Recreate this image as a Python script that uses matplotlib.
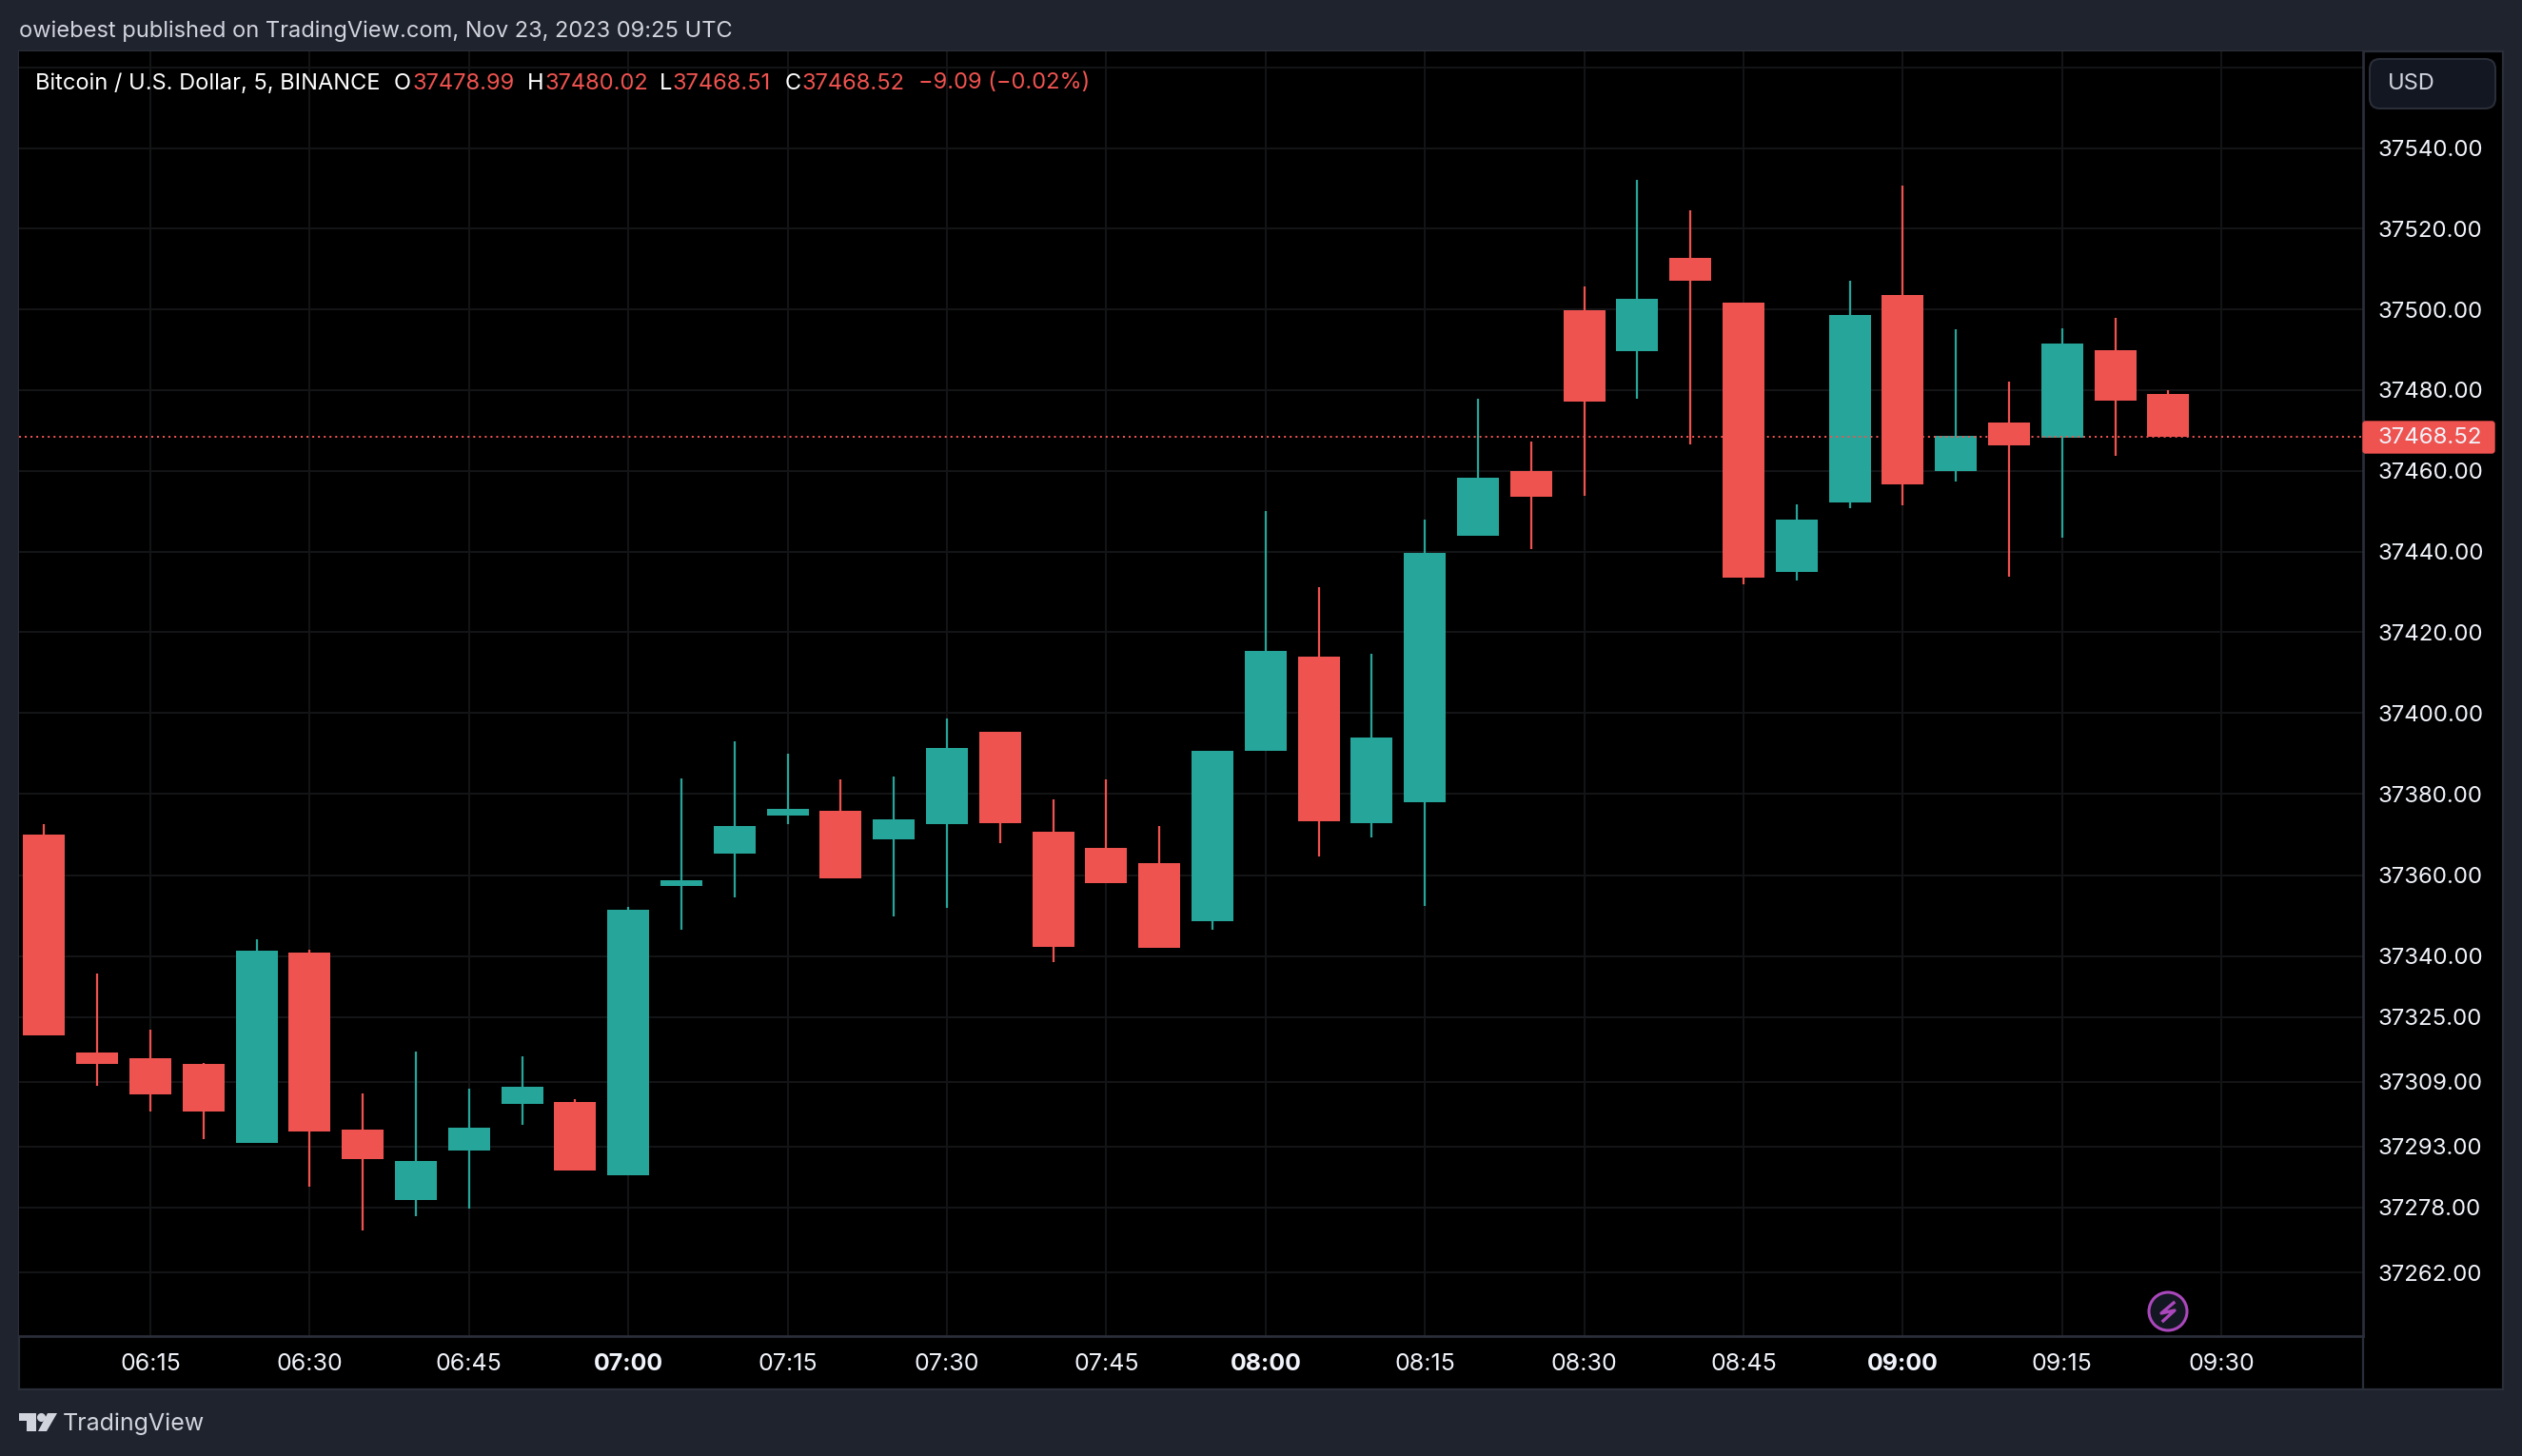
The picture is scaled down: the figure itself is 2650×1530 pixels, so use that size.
import matplotlib
matplotlib.use("Agg")
import matplotlib.pyplot as plt
from matplotlib.patches import Rectangle, FancyBboxPatch, Circle, Polygon
from matplotlib.lines import Line2D

W, H = 2650, 1530

# 5 minute candles, time as minutes after midnight (06:05 .. 09:25)
times = list(range(365, 570, 5))
opens = [37370.1, 37316.2, 37314.8, 37313.4, 37294.0, 37340.8, 37297.2, 37279.9, 37292.1, 37303.6,
         37304.0, 37286.0, 37357.4, 37365.4, 37374.8, 37375.9, 37368.9, 37372.7, 37395.4, 37370.8,
         37366.8, 37363.0, 37348.5, 37390.8, 37414.1, 37372.9, 37377.9, 37443.8, 37460.0, 37499.8,
         37489.6, 37512.7, 37501.6, 37435.0, 37452.2, 37503.5, 37460.0, 37472.0, 37468.2, 37489.9,
         37478.99]
highs = [37372.7, 37335.7, 37321.8, 37313.6, 37344.1, 37341.5, 37306.1, 37316.4, 37307.3, 37315.3,
         37304.7, 37352.1, 37383.9, 37393.0, 37390.0, 37383.7, 37384.4, 37398.7, 37395.4, 37378.8,
         37383.7, 37372.0, 37390.8, 37450.1, 37431.1, 37414.8, 37448.0, 37477.9, 37467.3, 37505.7,
         37532.0, 37524.5, 37501.6, 37451.7, 37507.1, 37530.6, 37495.1, 37482.1, 37495.3, 37497.9,
         37480.02]
lows = [37320.4, 37307.9, 37301.7, 37294.9, 37294.0, 37283.0, 37272.4, 37275.9, 37277.6, 37298.4,
        37287.1, 37286.0, 37346.6, 37354.6, 37372.7, 37359.3, 37349.9, 37351.8, 37368.0, 37338.4,
        37357.9, 37342.0, 37346.6, 37390.8, 37364.5, 37369.2, 37352.3, 37443.8, 37440.7, 37453.8,
        37477.9, 37466.6, 37431.9, 37432.9, 37450.8, 37451.5, 37457.4, 37433.8, 37443.5, 37463.7,
        37468.51]
closes = [37320.4, 37313.4, 37305.9, 37301.7, 37341.3, 37296.8, 37290.0, 37289.5, 37297.7, 37307.8,
          37287.1, 37351.4, 37358.6, 37372.2, 37376.4, 37359.3, 37373.8, 37391.4, 37372.9, 37342.2,
          37357.9, 37342.0, 37390.8, 37415.5, 37373.4, 37394.1, 37439.7, 37458.3, 37453.6, 37477.2,
          37502.6, 37507.1, 37433.6, 37448.0, 37498.6, 37456.7, 37468.7, 37466.3, 37491.5, 37477.4,
          37468.52]

price_ticks = [37560, 37540, 37520, 37500, 37480, 37460, 37440, 37420, 37400, 37380, 37360, 37340,
               37325, 37309, 37293, 37278, 37262]
time_ticks = [375, 390, 405, 420, 435, 450, 465, 480, 495, 510, 525, 540, 555, 570]
time_labels = ["06:15", "06:30", "06:45", "07:00", "07:15", "07:30", "07:45", "08:00", "08:15",
               "08:30", "08:45", "09:00", "09:15", "09:30"]
last_price = 37468.52

UP = "#26A69A"
DOWN = "#EF5350"
FRAME = "#1F232E"
BORDER = "#2A2E39"
GRID = "#131416"
TEXT = "#D1D4DC"
FONT = "Inter"

plt.rcParams["font.family"] = FONT


def fx(x):
    return x / W


def fy(y):
    return 1 - y / H


fig = plt.figure(figsize=(W / 100, H / 100), dpi=100, facecolor=FRAME)

# black panel behind chart and both scales
fig.add_artist(Rectangle((fx(20), fy(1460)), 2610 / W, 1406 / H, transform=fig.transFigure,
                         facecolor="black", edgecolor=BORDER, linewidth=1.6, zorder=-1))
fig.add_artist(Line2D([fx(2483), fx(2483)], [fy(1404), fy(1460)], color=BORDER, linewidth=1.6,
                      transform=fig.transFigure))

ax = fig.add_axes([fx(20), fy(1404), 2463 / W, 1350 / H], facecolor="black")
ax.set_yscale("log")
ax.set_xlim(362.63, 583.33)
ax.set_ylim(37246.3, 37564.0)

ax.set_xticks(time_ticks)
ax.set_xticklabels(time_labels)
ax.set_yticks(price_ticks)
ax.set_yticklabels(["" if p == 37560 else f"{p:.2f}" for p in price_ticks])
ax.minorticks_off()
ax.grid(True, color=GRID, linewidth=1.5)
ax.set_axisbelow(True)
ax.yaxis.tick_right()
ax.tick_params(axis="y", length=0, pad=11.5, labelsize=17.3, labelcolor="#F0F3FA")
ax.tick_params(axis="x", length=0, pad=21, labelsize=18, labelcolor="#F0F3FA")
for lab in ax.get_xticklabels():
    lab.set_va("center")
    if lab.get_text() in ("07:00", "08:00", "09:00"):
        lab.set_fontweight("bold")
for side in ["top", "left"]:
    ax.spines[side].set_visible(False)
for side in ["right", "bottom"]:
    ax.spines[side].set_color(BORDER)
    ax.spines[side].set_linewidth(2)

colors = [UP if c >= o else DOWN for o, c in zip(opens, closes)]
ax.vlines(times, lows, highs, colors=colors, linewidth=1.6, zorder=3)
ax.bar(times, [max(abs(c - o), 0.9) for o, c in zip(opens, closes)],
       bottom=[min(o, c) for o, c in zip(opens, closes)],
       width=3.95, color=colors, linewidth=0, zorder=4)

ax.axhline(last_price, color=DOWN, linewidth=1.45, linestyle=(0, (1, 2)), zorder=5)

# header + legend row
fig.text(fx(20), fy(33), "owiebest published on TradingView.com, Nov 23, 2023 09:25 UTC",
         color=TEXT, fontsize=17, va="center")
legend_row = [(37, "Bitcoin / U.S. Dollar, 5, BINANCE", "white"), (414, "O", "white"),
              (433, "37478.99", DOWN), (554, "H", "white"), (573, "37480.02", DOWN),
              (693, "L", "white"), (707, "37468.51", DOWN), (825, "C", "white"),
              (842, "37468.52", DOWN), (965, "\u22129.09 (\u22120.02%)", DOWN)]
for x, s, col in legend_row:
    fig.text(fx(x), fy(87.5), s, color=col, fontsize=17, va="center")

# currency button
fig.add_artist(FancyBboxPatch((fx(2490), fy(114)), 132 / W, 52 / H, transform=fig.transFigure,
                              boxstyle="round,pad=0,rounding_size=0.004", mutation_aspect=W / H,
                              facecolor="#131722", edgecolor=BORDER, linewidth=1.5))
fig.text(fx(2509), fy(88.5), "USD", color=TEXT, fontsize=17, va="center")

# last price tag
fig.add_artist(FancyBboxPatch((fx(2483), fy(476)), 138 / W, 33 / H, transform=fig.transFigure,
                              boxstyle="round,pad=0,rounding_size=0.001", mutation_aspect=W / H,
                              facecolor=DOWN, edgecolor=DOWN, linewidth=1))
fig.text(fx(2499), fy(459.5), f"{last_price:.2f}", color="#F0F3FA", fontsize=17.3, va="center")

# bolt badge
cx, cy = 2278, 1378
badge = fig.add_axes([fx(cx - 24), fy(cy + 24), 48 / W, 48 / H])
badge.set_xlim(-24, 24)
badge.set_ylim(24, -24)
badge.axis("off")
badge.add_patch(Circle((0, 0), 20, facecolor="#131722", edgecolor="#AB47BC", linewidth=2.2))
badge.plot([6, -7, 7, -5], [-9, 2, -1, 10], color="#AB47BC", linewidth=2.4)

# footer logo
fig.add_artist(Polygon([(fx(20), fy(1485)), (fx(38), fy(1485)), (fx(38), fy(1504)), (fx(28), fy(1504)),
                        (fx(28), fy(1493)), (fx(20), fy(1493))], transform=fig.transFigure,
                       facecolor=TEXT, edgecolor="none"))
fig.add_artist(Polygon([(fx(50), fy(1485)), (fx(60), fy(1485)), (fx(49), fy(1504)), (fx(40), fy(1504))],
                       transform=fig.transFigure, facecolor=TEXT, edgecolor="none"))
fig.add_artist(Line2D([fx(43)], [fy(1489)], marker="o", markersize=5.5, color=TEXT,
                      transform=fig.transFigure))
fig.text(fx(66), fy(1496), "TradingView", color=TEXT, fontsize=18, va="center")

fig.savefig("out.png", dpi=100, facecolor=FRAME)
